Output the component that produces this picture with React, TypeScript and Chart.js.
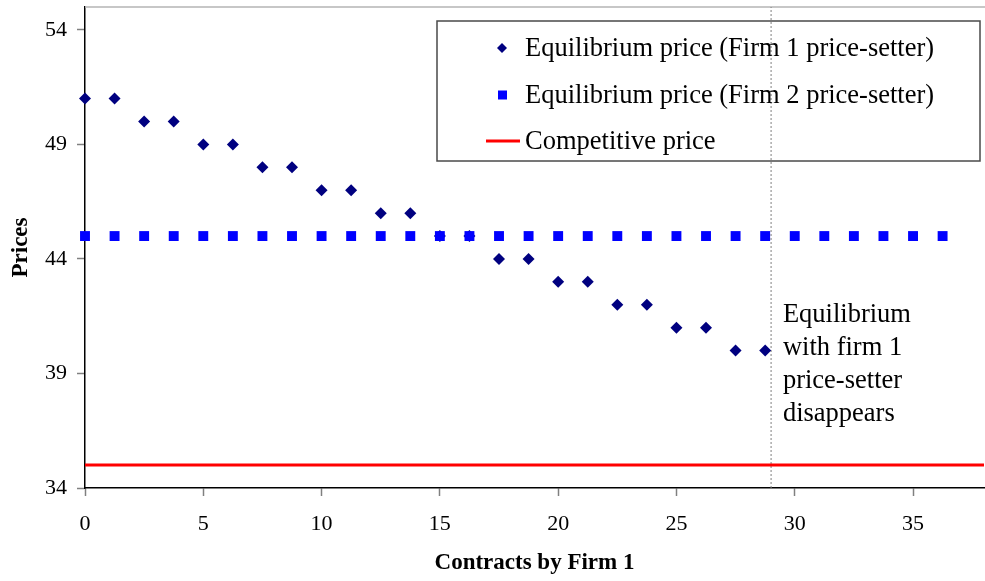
import React, { useEffect, useRef } from 'react';
import { Chart, registerables } from 'chart.js';

Chart.register(...registerables);

// ---- Data ----
const contractsFirm1 = [0, 1.25, 2.5, 3.75, 5, 6.25, 7.5, 8.75, 10, 11.25, 12.5, 13.75, 15, 16.25, 17.5, 18.75, 20, 21.25, 22.5, 23.75, 25, 26.25, 27.5, 28.75];
const priceFirm1Setter = [51, 51, 50, 50, 49, 49, 48, 48, 47, 47, 46, 46, 45, 45, 44, 44, 43, 43, 42, 42, 41, 41, 40, 40];

const contractsFirm2 = [0, 1.25, 2.5, 3.75, 5, 6.25, 7.5, 8.75, 10, 11.25, 12.5, 13.75, 15, 16.25, 17.5, 18.75, 20, 21.25, 22.5, 23.75, 25, 26.25, 27.5, 28.75, 30, 31.25, 32.5, 33.75, 35, 36.25];
const priceFirm2Setter = [45, 45, 45, 45, 45, 45, 45, 45, 45, 45, 45, 45, 45, 45, 45, 45, 45, 45, 45, 45, 45, 45, 45, 45, 45, 45, 45, 45, 45, 45];

const competitiveX = [0, 38];
const competitivePrice = [35, 35];

const disappearX = [29, 29];
const disappearY = [34, 55];

const xTicks = [0, 5, 10, 15, 20, 25, 30, 35];
const yTicks = [34, 39, 44, 49, 54];

const legendLabels = [
  'Equilibrium price (Firm 1 price-setter)',
  'Equilibrium price (Firm 2 price-setter)',
  'Competitive price',
];
const annotationLines = ['Equilibrium', 'with firm 1', 'price-setter', 'disappears'];
const annotationX = 29.5;
const annotationY = 41.26;

const xTitle = 'Contracts by Firm 1';
const yTitle = 'Prices';

const SERIF = "'Liberation Serif', 'Times New Roman', serif";

export default function App() {
  const ref = useRef<HTMLCanvasElement>(null);

  useEffect(() => {
    const canvas = ref.current;
    if (!canvas) return;

    const overlay = {
      id: 'overlay',
      beforeDatasetsDraw(chart: any) {
        const { ctx, chartArea } = chart;
        ctx.save();
        ctx.strokeStyle = '#b4b4b4';
        ctx.lineWidth = 1.5;
        ctx.beginPath();
        ctx.moveTo(chartArea.left, chartArea.top);
        ctx.lineTo(chart.width, chartArea.top);
        ctx.stroke();
        ctx.restore();
      },
      afterDraw(chart: any) {
        const { ctx } = chart;
        const xs = chart.scales.x;
        const ys = chart.scales.y;
        ctx.save();
        // legend box
        ctx.strokeStyle = '#4a4a4a';
        ctx.lineWidth = 1.5;
        ctx.strokeRect(437, 21, 543, 140);
        const rows = [48, 95, 141];
        ctx.font = `26.5px ${SERIF}`;
        ctx.fillStyle = '#000';
        ctx.textBaseline = 'middle';
        ctx.textAlign = 'left';
        legendLabels.forEach((t, i) => ctx.fillText(t, 525, rows[i] + 1));
        // diamond
        ctx.fillStyle = '#000080';
        ctx.beginPath();
        ctx.moveTo(502, rows[0] - 5);
        ctx.lineTo(507, rows[0]);
        ctx.lineTo(502, rows[0] + 5);
        ctx.lineTo(497, rows[0]);
        ctx.closePath();
        ctx.fill();
        // square
        ctx.fillStyle = '#0000ff';
        ctx.fillRect(498, rows[1] - 4.5, 9, 9);
        // line
        ctx.strokeStyle = '#ff0000';
        ctx.lineWidth = 3;
        ctx.beginPath();
        ctx.moveTo(486, rows[2]);
        ctx.lineTo(520, rows[2]);
        ctx.stroke();
        // annotation
        ctx.fillStyle = '#000';
        ctx.textBaseline = 'alphabetic';
        ctx.font = `26.5px ${SERIF}`;
        const ax = xs.getPixelForValue(annotationX);
        const ay = ys.getPixelForValue(annotationY);
        annotationLines.forEach((t, i) => ctx.fillText(t, ax, ay + i * 33));
        ctx.restore();
      },
    };

    const chart = new Chart(canvas, {
      type: 'scatter',
      data: {
        datasets: [
          {
            label: legendLabels[1],
            data: contractsFirm2.map((x, i) => ({ x, y: priceFirm2Setter[i] })),
            pointStyle: 'rect',
            pointRadius: 7,
            backgroundColor: '#0000ff',
            borderColor: '#0000ff',
            borderWidth: 0,
            order: 0,
            clip: false,
          } as any,
          {
            label: legendLabels[0],
            data: contractsFirm1.map((x, i) => ({ x, y: priceFirm1Setter[i] })),
            pointStyle: 'rectRot',
            pointRadius: 6,
            backgroundColor: '#000080',
            borderColor: '#000080',
            borderWidth: 0,
            order: 1,
            clip: false,
          } as any,
          {
            type: 'line',
            label: legendLabels[2],
            data: competitiveX.map((x, i) => ({ x, y: competitivePrice[i] })),
            borderColor: '#ff0000',
            borderWidth: 3,
            pointRadius: 0,
            showLine: true,
            fill: false,
            order: 2,
          } as any,
          {
            type: 'line',
            label: '',
            data: disappearX.map((x, i) => ({ x, y: disappearY[i] })),
            borderColor: '#808080',
            borderWidth: 1,
            borderDash: [2, 2],
            pointRadius: 0,
            showLine: true,
            fill: false,
            order: 3,
          } as any,
        ],
      },
      options: {
        animation: false,
        responsive: true,
        maintainAspectRatio: false,
        layout: { padding: { top: 5, right: 1, left: 0, bottom: 0 } },
        plugins: { legend: { display: false }, tooltip: { enabled: false } },
        scales: {
          x: {
            type: 'linear',
            min: 0,
            max: 38,
            afterBuildTicks: (s: any) => {
              s.ticks = xTicks.map((v) => ({ value: v }));
            },
            afterFit: (s: any) => {
              s.height = 93;
              s.paddingLeft = 0;
              s.paddingRight = 0;
            },
            ticks: { font: { family: SERIF, size: 22 }, color: '#000', padding: 15, maxRotation: 0, autoSkip: false },
            grid: { drawOnChartArea: false, tickLength: 8, tickColor: '#808080', tickWidth: 1.5 },
            border: { color: '#000', width: 1.5 },
            title: {
              display: true,
              text: xTitle,
              font: { family: SERIF, size: 23, weight: 'bold' },
              color: '#000',
              padding: { top: 4, bottom: 4 },
            },
          },
          y: {
            type: 'linear',
            min: 34,
            max: 55,
            afterBuildTicks: (s: any) => {
              s.ticks = yTicks.map((v) => ({ value: v }));
            },
            afterFit: (s: any) => {
              s.width = 85;
              s.paddingTop = 0;
              s.paddingBottom = 0;
            },
            ticks: { font: { family: SERIF, size: 22 }, color: '#000', padding: 10, autoSkip: false },
            grid: { drawOnChartArea: false, tickLength: 8, tickColor: '#808080', tickWidth: 1.5 },
            border: { color: '#000', width: 1.5 },
            title: {
              display: true,
              text: yTitle,
              font: { family: SERIF, size: 23, weight: 'bold' },
              color: '#000',
              padding: { top: 7, bottom: 7 },
            },
          },
        },
      } as any,
      plugins: [overlay],
    });

    return () => chart.destroy();
  }, []);

  return (
    <div style={{ position: 'absolute', left: 0, top: 0, width: 985, height: 581, overflow: 'hidden' }}>
      <div style={{ position: 'relative', width: 991, height: 581 }}>
        <canvas ref={ref} />
      </div>
    </div>
  );
}
